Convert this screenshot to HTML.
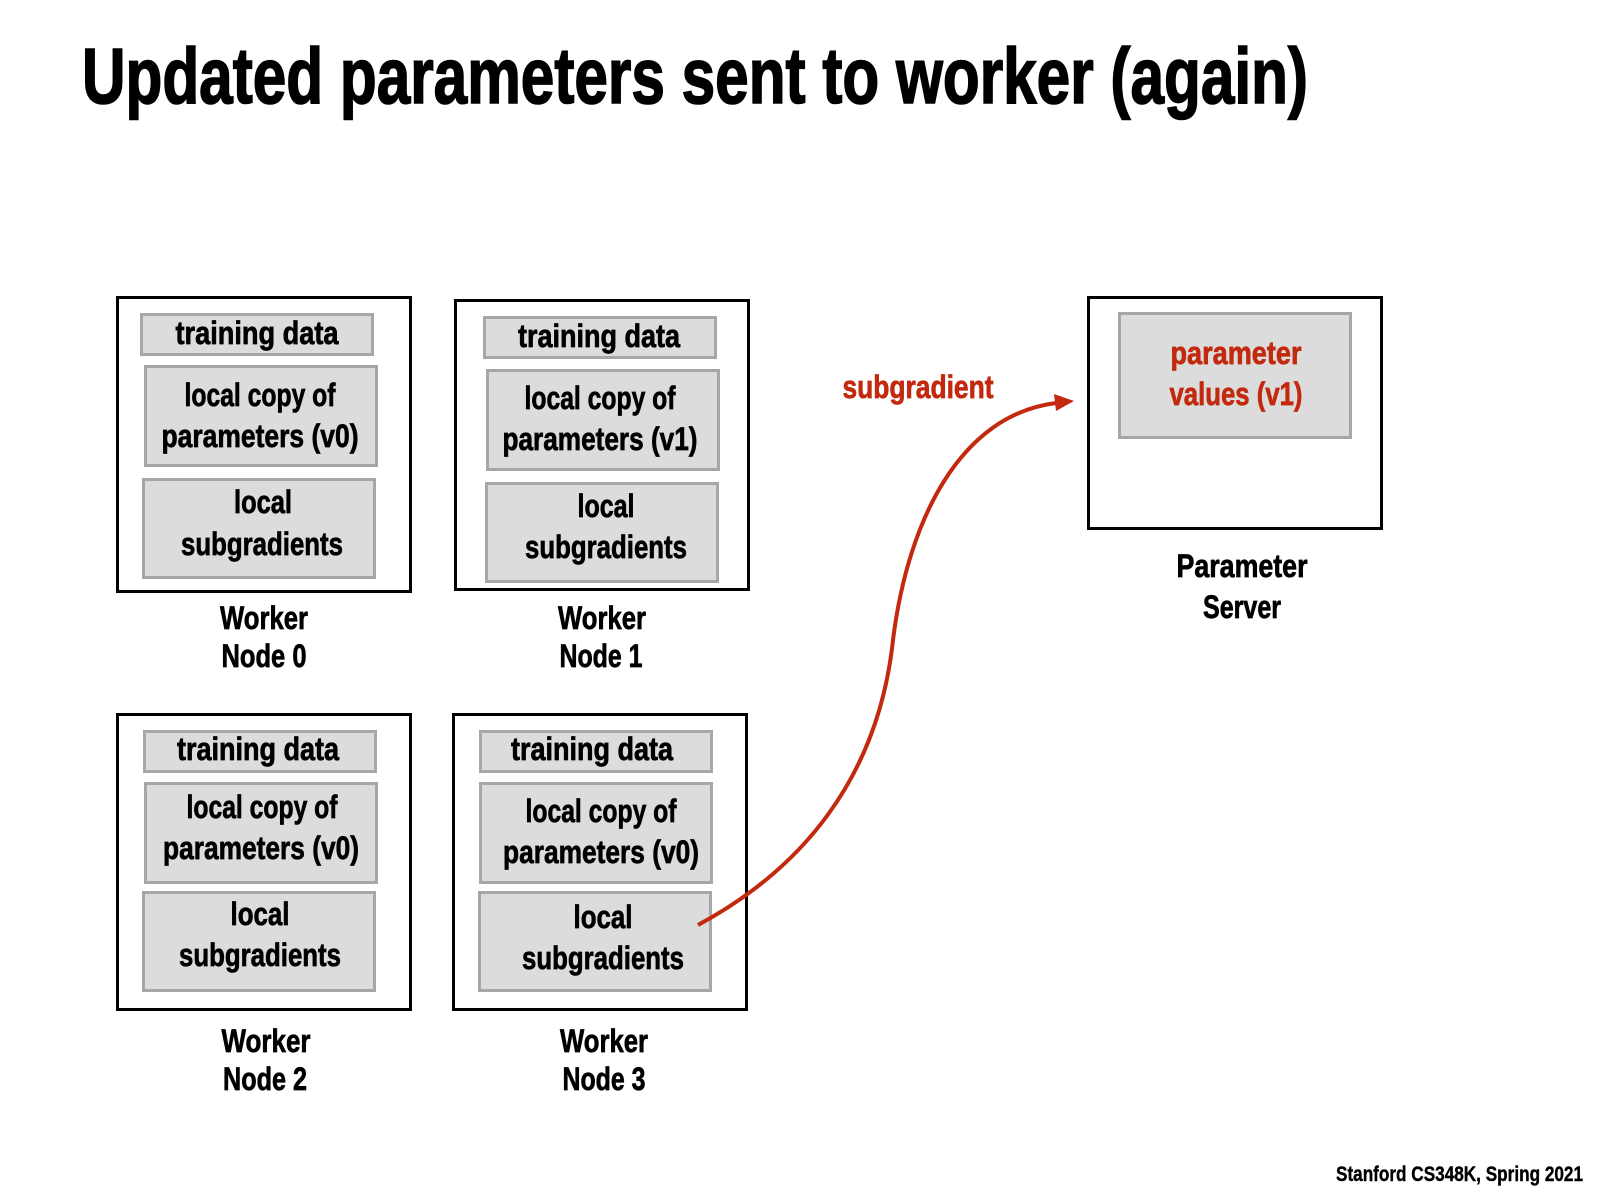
<!DOCTYPE html>
<html>
<head>
<meta charset="utf-8">
<style>
html,body{margin:0;padding:0;background:#fff;}
svg{display:block;}
text{font-family:"Liberation Sans",sans-serif;font-weight:bold;}
</style>
</head>
<body>
<svg width="1600" height="1200" viewBox="0 0 1600 1200" xmlns="http://www.w3.org/2000/svg">
<rect width="1600" height="1200" fill="#fff"/>

<!-- Title -->
<text x="82" y="103" font-size="79" textLength="1226" lengthAdjust="spacingAndGlyphs" fill="#000" stroke="#000" stroke-width="1.6">Updated parameters sent to worker (again)</text>

<!-- Footer -->
<text x="1336" y="1181" font-size="21" textLength="247" lengthAdjust="spacingAndGlyphs" fill="#000" stroke="#000" stroke-width="0.4">Stanford CS348K, Spring 2021</text>

<g font-size="32" text-anchor="middle">

<!-- Worker Node 0 -->
<rect x="117.5" y="297.5" width="293" height="294" fill="#fff" stroke="#000" stroke-width="3"/>
<rect x="141.5" y="314.5" width="231" height="40" fill="#dcdcdd" stroke="#a7a7a7" stroke-width="3"/>
<rect x="145.5" y="366.5" width="231" height="99" fill="#dcdcdd" stroke="#a7a7a7" stroke-width="3"/>
<rect x="143.5" y="479.5" width="231" height="98" fill="#dcdcdd" stroke="#a7a7a7" stroke-width="3"/>
<g fill="#000" stroke="#000" stroke-width="0.7">
<text x="257" y="344" textLength="163" lengthAdjust="spacingAndGlyphs">training data</text>
<text x="260" y="406" textLength="151" lengthAdjust="spacingAndGlyphs">local copy of</text>
<text x="260" y="447" textLength="197" lengthAdjust="spacingAndGlyphs">parameters (v0)</text>
<text x="263" y="513" textLength="58" lengthAdjust="spacingAndGlyphs">local</text>
<text x="262" y="555" textLength="162" lengthAdjust="spacingAndGlyphs">subgradients</text>
<text x="264" y="629" textLength="88" lengthAdjust="spacingAndGlyphs">Worker</text>
<text x="264" y="667" textLength="85" lengthAdjust="spacingAndGlyphs">Node 0</text>
</g>

<!-- Worker Node 1 -->
<rect x="455.5" y="300.5" width="293" height="289" fill="#fff" stroke="#000" stroke-width="3"/>
<rect x="484.5" y="317.5" width="231" height="40" fill="#dcdcdd" stroke="#a7a7a7" stroke-width="3"/>
<rect x="487.5" y="370.5" width="231" height="99" fill="#dcdcdd" stroke="#a7a7a7" stroke-width="3"/>
<rect x="486.5" y="483.5" width="231" height="98" fill="#dcdcdd" stroke="#a7a7a7" stroke-width="3"/>
<g fill="#000" stroke="#000" stroke-width="0.7">
<text x="599" y="347" textLength="162" lengthAdjust="spacingAndGlyphs">training data</text>
<text x="600" y="409" textLength="151" lengthAdjust="spacingAndGlyphs">local copy of</text>
<text x="600" y="450" textLength="195" lengthAdjust="spacingAndGlyphs">parameters (v1)</text>
<text x="606" y="517" textLength="57" lengthAdjust="spacingAndGlyphs">local</text>
<text x="606" y="558" textLength="162" lengthAdjust="spacingAndGlyphs">subgradients</text>
<text x="602" y="629" textLength="88" lengthAdjust="spacingAndGlyphs">Worker</text>
<text x="601" y="667" textLength="83" lengthAdjust="spacingAndGlyphs">Node 1</text>
</g>

<!-- Worker Node 2 -->
<rect x="117.5" y="714.5" width="293" height="295" fill="#fff" stroke="#000" stroke-width="3"/>
<rect x="144.5" y="731.5" width="231" height="40" fill="#dcdcdd" stroke="#a7a7a7" stroke-width="3"/>
<rect x="145.5" y="783.5" width="231" height="99" fill="#dcdcdd" stroke="#a7a7a7" stroke-width="3"/>
<rect x="143.5" y="892.5" width="231" height="98" fill="#dcdcdd" stroke="#a7a7a7" stroke-width="3"/>
<g fill="#000" stroke="#000" stroke-width="0.7">
<text x="258" y="760" textLength="162" lengthAdjust="spacingAndGlyphs">training data</text>
<text x="262" y="818" textLength="151" lengthAdjust="spacingAndGlyphs">local copy of</text>
<text x="261" y="859" textLength="196" lengthAdjust="spacingAndGlyphs">parameters (v0)</text>
<text x="260" y="925" textLength="59" lengthAdjust="spacingAndGlyphs">local</text>
<text x="260" y="966" textLength="162" lengthAdjust="spacingAndGlyphs">subgradients</text>
<text x="266" y="1052" textLength="89" lengthAdjust="spacingAndGlyphs">Worker</text>
<text x="265" y="1090" textLength="84" lengthAdjust="spacingAndGlyphs">Node 2</text>
</g>

<!-- Worker Node 3 -->
<rect x="453.5" y="714.5" width="293" height="295" fill="#fff" stroke="#000" stroke-width="3"/>
<rect x="480.5" y="731.5" width="231" height="40" fill="#dcdcdd" stroke="#a7a7a7" stroke-width="3"/>
<rect x="480.5" y="783.5" width="231" height="99" fill="#dcdcdd" stroke="#a7a7a7" stroke-width="3"/>
<rect x="479.5" y="892.5" width="231" height="98" fill="#dcdcdd" stroke="#a7a7a7" stroke-width="3"/>
<g fill="#000" stroke="#000" stroke-width="0.7">
<text x="592" y="760" textLength="162" lengthAdjust="spacingAndGlyphs">training data</text>
<text x="601" y="822" textLength="151" lengthAdjust="spacingAndGlyphs">local copy of</text>
<text x="601" y="863" textLength="196" lengthAdjust="spacingAndGlyphs">parameters (v0)</text>
<text x="603" y="928" textLength="59" lengthAdjust="spacingAndGlyphs">local</text>
<text x="603" y="969" textLength="162" lengthAdjust="spacingAndGlyphs">subgradients</text>
<text x="604" y="1052" textLength="88" lengthAdjust="spacingAndGlyphs">Worker</text>
<text x="604" y="1090" textLength="83" lengthAdjust="spacingAndGlyphs">Node 3</text>
</g>

<!-- Parameter Server -->
<rect x="1088.5" y="297.5" width="293" height="231" fill="#fff" stroke="#000" stroke-width="3"/>
<rect x="1119.5" y="313.5" width="231" height="124" fill="#dcdcdd" stroke="#a7a7a7" stroke-width="3"/>
<g fill="#c2290e" stroke="#c2290e" stroke-width="0.7">
<text x="1236" y="364" textLength="131" lengthAdjust="spacingAndGlyphs">parameter</text>
<text x="1236" y="405" textLength="133" lengthAdjust="spacingAndGlyphs">values (v1)</text>
<text x="918" y="398" textLength="151" lengthAdjust="spacingAndGlyphs">subgradient</text>
</g>
<g fill="#000" stroke="#000" stroke-width="0.7">
<text x="1242" y="577" textLength="131" lengthAdjust="spacingAndGlyphs">Parameter</text>
<text x="1242" y="618" textLength="78" lengthAdjust="spacingAndGlyphs">Server</text>
</g>
</g>

<!-- Arrow -->
<path d="M698,925 C800,870 878,780 893,640 C908,520 960,415 1056,403" fill="none" stroke="#c2290e" stroke-width="4"/>
<polygon points="1074,401 1054,394 1056,411" fill="#c2290e"/>

</svg>
</body>
</html>
